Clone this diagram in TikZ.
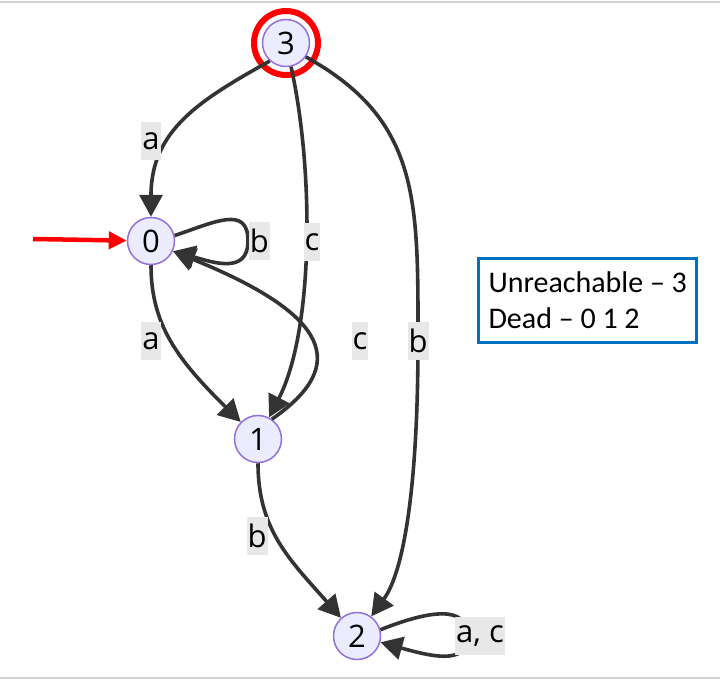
\documentclass[tikz,border=0pt]{standalone}
\usepackage{fontspec}
\usepackage{xcolor}
\usepackage{tikz}
\usetikzlibrary{arrows.meta,positioning}
\newfontfamily\graphfont{Open Sans}
\newfontfamily\notefont{Carlito}
\definecolor{edgegray}{HTML}{333333}
\definecolor{stpurple}{HTML}{9370DB}
\definecolor{stfill}{HTML}{ECECFF}
\definecolor{lblgray}{HTML}{E8E8E8}
\definecolor{noteblue}{HTML}{0070C0}

\begin{document}
\begin{tikzpicture}[
  x=1pt, y=-1pt,
  font=\graphfont\fontsize{31}{36}\selectfont,
  state/.style={circle, draw=stpurple, fill=stfill, line width=1.5pt,
                minimum size=47pt, inner sep=0pt},
  lbl/.style={fill=lblgray, inner xsep=1pt, inner ysep=0pt, minimum height=38pt},
  ar/.style={-{Triangle[length=22pt,width=23pt]}, line width=3.6pt, draw=edgegray},
  initar/.style={-{Triangle[length=18pt,width=17pt]}, line width=4.5pt, draw=red},
  ring/.style={circle, draw=red, line width=6pt, minimum size=64pt, inner sep=0pt},
  note/.style={draw=noteblue, line width=3pt, align=left,
               inner xsep=10pt, minimum height=84pt,
               font=\notefont\fontsize{30}{36}\selectfont},
]
\useasboundingbox (0,0) rectangle (720,680);
\draw[gray!35, line width=1.5pt] (0,2) -- (720,2);
\draw[gray!35, line width=1.5pt] (0,678) -- (720,678);

% ---------------- states ----------------
\node[state] (s3) at (286,43) {3};
\node[state] (s0) at (151,241) {0};
\node[state] (s1) at (258,439) {1};
\node[state] (s2) at (357,636) {2};
\node[ring] (ring3) at (s3.center) {};

% start arrow
\coordinate (init) at (33,239);
\draw[initar] (init) -- (s0);

% ---------------- transitions ----------------
\draw[ar] (s3.228) .. controls (200,100) and (151,130) .. (s0)
  node[lbl] at (151,141) {a};
\draw[ar] (s3.282) .. controls (314,170) and (314,330) .. (s1)
  node[lbl] at (312,242) {c};
\draw[ar] (s3.-35) .. controls (420,120) and (418,200) .. (418,341)
  .. controls (418,480) and (405,570) .. (s2)
  node[lbl] at (418,341) {b};
\draw[ar] (s0.13) .. controls (215,222) and (248,205) .. (248,241)
  .. controls (248,275) and (212,262) .. (s0.-25)
  node[lbl, anchor=west] at (247,241) {b};
\draw[ar] (s0.south) .. controls (151,325) and (178,360) .. (s1)
  node[lbl] at (151,341) {a};
\draw[ar] (s1.55) .. controls (350,365) and (330,315) .. (s0.-25);
\node[lbl] (lc) at (360,341) {c};
\draw[ar] (s1.south) .. controls (258,530) and (290,560) .. (s2)
  node[lbl] at (257,536) {b};
\draw[ar] (s2.15) .. controls (430,610) and (468,605) .. (467,636)
  .. controls (468,666) and (430,656) .. (s2.-15)
  node[lbl] at (480,636) {a, c};

% ---------------- note ----------------
\node[note, anchor=north west] (notes) at (477,257)
  {Unreachable – 3\\Dead – 0 1 2};
\end{tikzpicture}
\end{document}
